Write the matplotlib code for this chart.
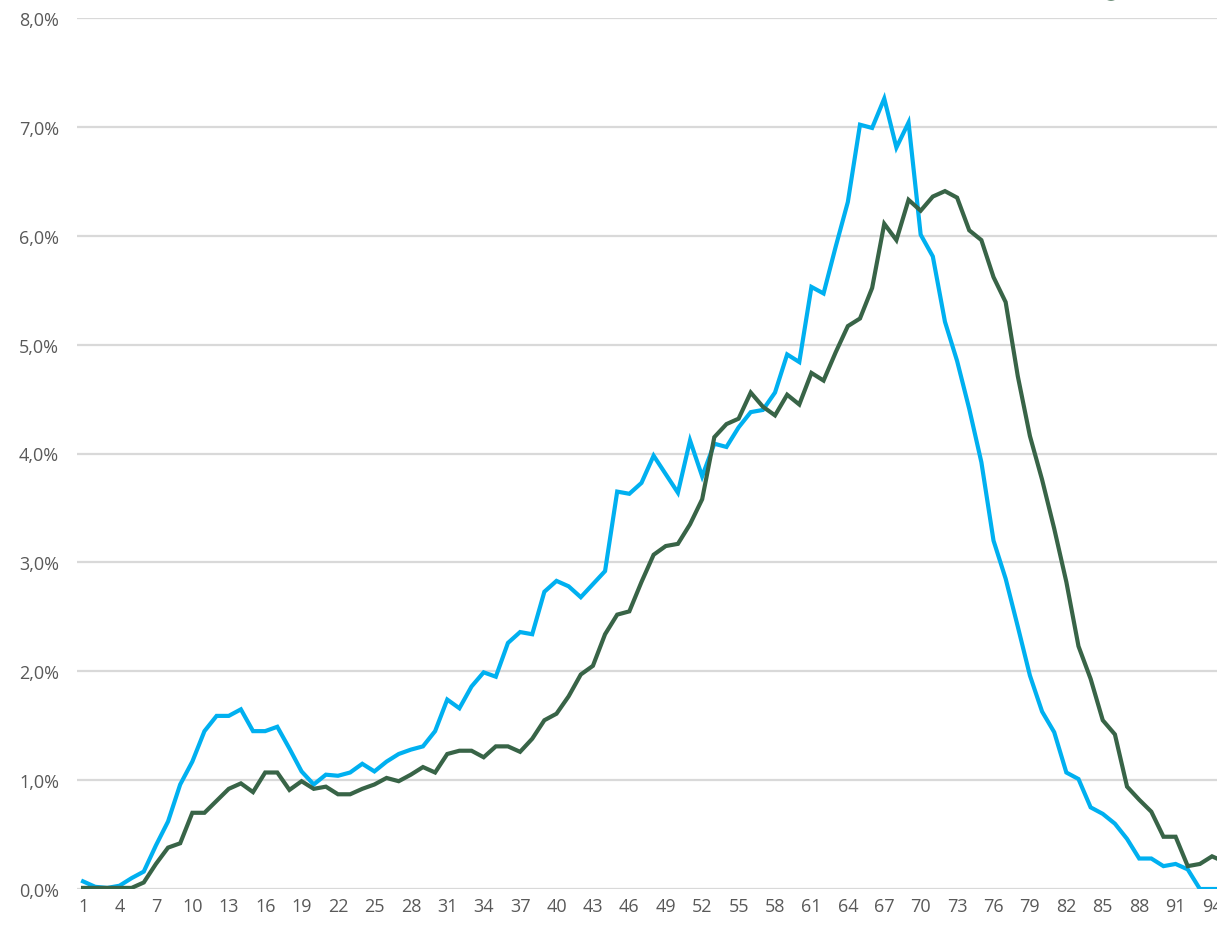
import matplotlib
matplotlib.use('Agg')
import matplotlib.pyplot as plt
from matplotlib.patches import Ellipse
from matplotlib.ticker import FuncFormatter

# share per age (in %), ages 1..95
ages = list(range(1, 96))
blue_vals = [0.07, 0.02, 0.01, 0.03, 0.10, 0.16, 0.40, 0.62, 0.96, 1.17,
             1.45, 1.59, 1.59, 1.65, 1.45, 1.45, 1.49, 1.29, 1.08, 0.96,
             1.05, 1.04, 1.07, 1.15, 1.08, 1.17, 1.24, 1.28, 1.31, 1.45,
             1.74, 1.66, 1.86, 1.99, 1.95, 2.26, 2.36, 2.34, 2.73, 2.83,
             2.78, 2.68, 2.80, 2.92, 3.65, 3.63, 3.73, 3.98, 3.81, 3.64,
             4.12, 3.79, 4.09, 4.06, 4.24, 4.38, 4.40, 4.56, 4.91, 4.84,
             5.53, 5.47, 5.90, 6.31, 7.02, 6.99, 7.26, 6.81, 7.04, 6.01,
             5.81, 5.21, 4.85, 4.41, 3.92, 3.20, 2.85, 2.41, 1.96, 1.63,
             1.44, 1.07, 1.01, 0.75, 0.69, 0.60, 0.46, 0.28, 0.28, 0.21,
             0.23, 0.18, 0.00, 0.00, 0.00]
green_vals = [0.01, 0.01, 0.01, 0.01, 0.01, 0.06, 0.23, 0.38, 0.42, 0.70,
              0.70, 0.81, 0.92, 0.97, 0.89, 1.07, 1.07, 0.91, 0.99, 0.92,
              0.94, 0.87, 0.87, 0.92, 0.96, 1.02, 0.99, 1.05, 1.12, 1.07,
              1.24, 1.27, 1.27, 1.21, 1.31, 1.31, 1.26, 1.38, 1.55, 1.61,
              1.77, 1.97, 2.05, 2.34, 2.52, 2.55, 2.82, 3.07, 3.15, 3.17,
              3.35, 3.58, 4.15, 4.27, 4.32, 4.56, 4.43, 4.35, 4.54, 4.45,
              4.74, 4.67, 4.93, 5.17, 5.24, 5.52, 6.11, 5.96, 6.33, 6.23,
              6.36, 6.41, 6.35, 6.05, 5.96, 5.62, 5.39, 4.71, 4.16, 3.76,
              3.31, 2.82, 2.23, 1.93, 1.55, 1.42, 0.94, 0.82, 0.71, 0.48,
              0.48, 0.21, 0.23, 0.30, 0.25]
tick_pos = list(range(1, 95, 3))
y_ticks = [0, 1, 2, 3, 4, 5, 6, 7, 8]

W, H = 1217, 928
fig = plt.figure(figsize=(W / 100, H / 100), dpi=100)
ax = fig.add_axes([77 / W, (H - 890) / H, 1 - 77 / W, (890 - 19) / H])

ax.plot(ages, blue_vals, color='#00B0F0', lw=3, solid_joinstyle='miter', zorder=3)
ax.plot(ages, green_vals, color='#386447', lw=3, solid_joinstyle='miter', zorder=4)

ax.set_xlim(0.5, 94.41)
ax.set_ylim(0, 8)
ax.set_yticks(y_ticks)
ax.yaxis.set_major_formatter(FuncFormatter(lambda v, p: ('%.1f%%' % v).replace('.', ',')))
ax.set_xticks(tick_pos)
ax.set_xticklabels([str(t) for t in tick_pos])
ax.grid(axis='y', color='#D9D9D9', lw=1.6)
ax.set_axisbelow(True)
for s in ax.spines.values():
    s.set_visible(False)
ax.tick_params(length=0, labelcolor='#595959', labelsize=13)
ax.tick_params(axis='y', pad=13)
ax.tick_params(axis='x', pad=6)
for lab in ax.get_xticklabels() + ax.get_yticklabels():
    lab.set_family('Open Sans')
ax.patch.set_visible(False)

# bit of a legend marker peeking in at the top edge
fig.add_artist(Ellipse((1111 / W, 1 + 9 / H), 20 / W, 20 / H,
                       color='#386447', transform=fig.transFigure, clip_on=False))

plt.savefig('out.png', dpi=100)
plt.close()
